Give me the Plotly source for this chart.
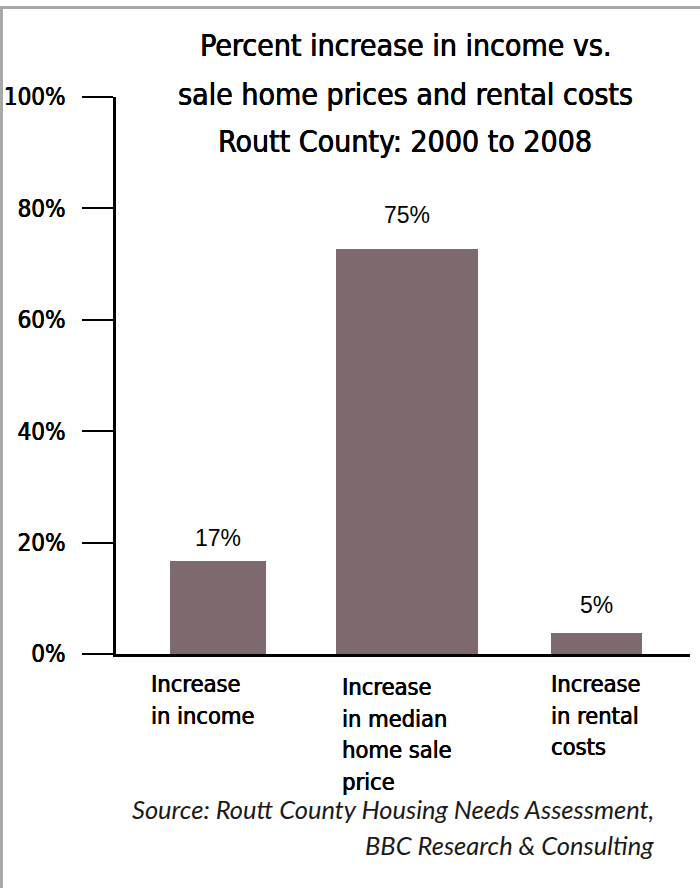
import plotly.graph_objects as go

categories = ["income", "median home sale price", "rental costs"]
cat_labels = [["Increase", "in income"],
              ["Increase", "in median", "home sale", "price"],
              ["Increase", "in rental", "costs"]]
bar_values = [16.7, 72.7, 3.8]          # bar heights as drawn
label_values = [17, 75, 5]              # printed labels
tick_vals = [0, 20, 40, 60, 80, 100]
tick_text = ["0%", "20%", "40%", "60%", "80%", "100%"]
title_lines = ["Percent increase in income vs.",
               "sale home prices and rental costs",
               "Routt County: 2000 to 2008"]
source_lines = ["Source: Routt County Housing Needs Assessment,",
                "BBC Research & Consulting"]

COND = "DejaVu Sans Condensed, DejaVu Sans, sans-serif"
HEAVY = "0.45px 0px 0px black, -0.2px 0px 0px black"
BAR_COLOR = "#7e6a6e"
bar_widths = [0.508, 0.751, 0.481]
label_xshift = [-68, -66, -46]
label_top = [684, 687, 684]

W, H = 700, 888
ML, MR, MT, MB = 116, 10, 97, 234
PW, PH = W - ML - MR, H - MT - MB


def px_x(p):
    return (p - ML) / PW


def px_y(p):
    return (H - MB - p) / PH


fig = go.Figure()
fig.add_trace(go.Bar(
    x=categories, y=bar_values, width=bar_widths,
    marker=dict(color=BAR_COLOR, line=dict(width=0)),
    hoverinfo="skip", showlegend=False,
))

annotations = []
for c, v in zip(categories, label_values):
    annotations.append(dict(
        x=c, y=v, xref="x", yref="y", text=f"{v}%", showarrow=False,
        yanchor="bottom", xanchor="center", yshift=6,
        font=dict(family="Liberation Sans, Arial, sans-serif", size=23, color="black"),
    ))
for c, lines, xs, top in zip(categories, cat_labels, label_xshift, label_top):
    for i, line in enumerate(lines):
        annotations.append(dict(
            x=c, y=px_y(top + 31.5 * i), xref="x", yref="paper", text=line,
            showarrow=False, xanchor="left", yanchor="middle", align="left",
            xshift=xs, borderpad=0,
            font=dict(family=COND, size=23.5, color="black", shadow=HEAVY),
        ))
for i, line in enumerate(title_lines):
    annotations.append(dict(
        x=px_x(405), y=px_y(46 + 48 * i), xref="paper", yref="paper",
        text=line, showarrow=False, xanchor="center", yanchor="middle",
        font=dict(family=COND, size=30, color="black", shadow=HEAVY),
    ))
for i, line in enumerate(source_lines):
    annotations.append(dict(
        x=px_x(655), y=px_y(809 + 36 * i), xref="paper", yref="paper",
        text=f"<i>{line}</i>", showarrow=False, xanchor="right", yanchor="middle",
        borderpad=0,
        font=dict(family="Lato, Open Sans, sans-serif", size=25.5, color="#1a1a1a"),
    ))

shapes = [
    dict(type="line", xref="paper", yref="paper",
         x0=px_x(1.5), x1=px_x(1.5), y0=px_y(7), y1=px_y(895),
         line=dict(color="#a8a8a8", width=3)),
    dict(type="line", xref="paper", yref="paper",
         x0=px_x(0), x1=px_x(705), y0=px_y(7.5), y1=px_y(7.5),
         line=dict(color="#a8a8a8", width=3)),
]

fig.update_layout(
    width=W, height=H,
    margin=dict(l=ML, r=MR, t=MT, b=MB, autoexpand=False),
    paper_bgcolor="white", plot_bgcolor="white",
    bargap=0,
    annotations=annotations, shapes=shapes,
    xaxis=dict(type="category", range=[-0.54, 2.497], showticklabels=False,
               ticks="", showgrid=False, zeroline=False, automargin=False,
               showline=True, linecolor="black", linewidth=2.5, fixedrange=True),
    yaxis=dict(range=[0, 100], tickvals=tick_vals, ticktext=tick_text,
               ticks="outside", ticklen=31, tickwidth=2, tickcolor="black",
               showgrid=False, zeroline=False, showline=True, automargin=False,
               linecolor="black", linewidth=2.5, ticklabelstandoff=12,
               tickfont=dict(family=COND, size=24, color="black", shadow=HEAVY),
               fixedrange=True),
)

fig.write_html("out.html", config={"displayModeBar": False})
